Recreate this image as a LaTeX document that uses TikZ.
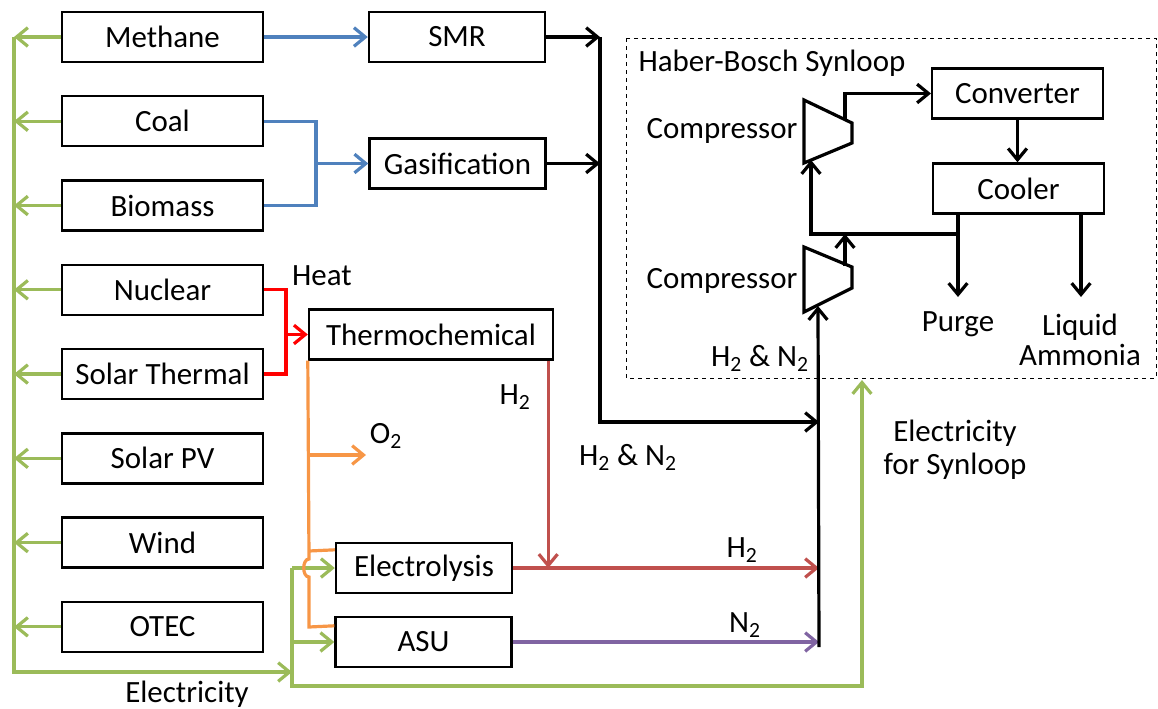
\documentclass[tikz,border=0pt]{standalone}
\usepackage{fontspec}
\setmainfont{Carlito}
\usetikzlibrary{arrows.meta,positioning}
\definecolor{elecgreen}{HTML}{9BBB59}
\definecolor{feedblue}{HTML}{4F81BD}
\definecolor{heatred}{HTML}{FF0000}
\definecolor{oxorange}{HTML}{F79646}
\definecolor{hydred}{HTML}{C0504D}
\definecolor{nitpurple}{HTML}{8064A2}

\begin{document}
\begin{tikzpicture}[
            x=0.75pt, y=-0.75pt,
            node distance=23.9pt,
            font=\fontsize{23.2}{27}\selectfont,
            box/.style={rectangle, draw, align=center, minimum width=150.75pt, minimum height=37.5pt, inner sep=0pt, fill=white, line width=1.8pt},
            unit/.style={box, minimum width=132pt},
            loopbox/.style={box, minimum width=128pt, minimum height=37.5pt},
            lbl/.style={inner sep=0pt, align=center},
            flow/.style={line width=2.4pt},
            arrow/.style={flow, -{Straight Barb[length=8.5pt, width=14pt]}},
            comp/.style={draw, line width=2.4pt, line join=miter}
        ]
            \useasboundingbox (0,0) rectangle (1158,708);

            % --- SOURCES ---
            \node[box] (methane) at (162.5,37) {Methane};
            \node[box, below=of methane] (coal) {Coal};
            \node[box, below=of coal] (biomass) {Biomass};
            \node[box, below=of biomass] (nuclear) {Nuclear};
            \node[box, below=of nuclear] (solarth) {Solar Thermal};
            \node[box, below=of solarth] (solarpv) {Solar PV};
            \node[box, below=of solarpv] (wind) {Wind};
            \node[box, below=of wind] (otec) {OTEC};

            % --- PROCESSES ---
            \node[unit] (smr) at (457,37) {SMR};
            \node[unit] (gasif) at (457.5,163.5) {Gasification};
            \node[box, minimum width=183pt] (thermo) at (431,334.5) {Thermochemical};
            \node[unit] (electro) at (424,568) {Electrolysis};
            \node[unit] (asu) at (423.5,642) {ASU};

            % --- SYNLOOP ---
            \draw[dashed, line width=0.75pt] (626,38) rectangle (1156,378);
            \node[lbl] (hblabel) at (772,63) {Haber-Bosch Synloop};
            \node[loopbox] (conv) at (1017.5,93.5) {Converter};
            \node[loopbox] (cooler) at (1018.5,188.5) {Cooler};
            \draw[comp] (804,100) -- (852,123) -- (852,143) -- (804,163) -- cycle;
            \draw[comp] (804,247) -- (852,267) -- (852,288) -- (804,312) -- cycle;
            \node[lbl] (comp1lbl) at (722,131) {Compressor};
            \node[lbl] (comp2lbl) at (722,281) {Compressor};
            \coordinate (comp1in) at (811,160);
            \coordinate (comp1out) at (845,119);
            \coordinate (comp2in) at (818,306);
            \coordinate (comp2out) at (845,266);
            \coordinate (recyc) at (958,234);

            \draw[arrow] (comp1out) |- (conv.west);
            \draw[arrow] (conv.south) -- (conv.south |- cooler.north);
            \draw[arrow] (cooler.south -| recyc) -- (recyc) -| (comp1in);
            \draw[arrow] (comp2out) -- (comp2out |- recyc);
            \draw[arrow] (recyc) -- (958,297);
            \draw[arrow] (1081,213) -- (1081,297);
            \node[lbl] (purge) at (958,324) {Purge};
            \node[lbl] (ammonia) at (1080,340) {Liquid\\[-4pt]Ammonia};

            % --- ELECTRICITY ---
            \coordinate (elecbus) at (14,37);
            \coordinate (elecsplit) at (292,672);
            \coordinate (elecbot) at (292,686);
            \coordinate (synelec) at (862,380);
            \foreach \src in {methane,coal,biomass,nuclear,solarth,solarpv,wind,otec}
                \draw[arrow, elecgreen] (\src.west) -- (\src.west -| elecbus);
            \draw[arrow, elecgreen] (elecbus) |- (elecsplit);
            \draw[arrow, elecgreen] (elecsplit |- electro.west) -- (elecbot) -| (synelec);
            \draw[arrow, elecgreen] (elecsplit |- electro.west) -- (electro.west);
            \draw[arrow, elecgreen] (elecsplit |- asu.west) -- (asu.west);
            \node[lbl] (eleclbl) at (187,694) {Electricity};
            \node[lbl] (synlbl) at (955,450) {Electricity\\[-2pt]for Synloop};

            % --- FOSSIL FEEDS ---
            \coordinate (bioj) at (316,163.5);
            \draw[arrow, feedblue] (methane) -- (smr);
            \draw[flow, feedblue] (coal.east) -| (bioj) |- (biomass.east);
            \draw[arrow, feedblue] (bioj) -- (gasif.west);

            % --- HEAT ---
            \coordinate (heatj) at (286,334.5);
            \draw[flow, heatred] (nuclear.east) -| (heatj) |- (solarth.east);
            \draw[arrow, heatred] (heatj) -- (thermo.west);
            \node[lbl] (heatlbl) at (322,276) {Heat};

            % --- OXYGEN ---
            \draw[flow, oxorange] (thermo.south west) -- (309,559) to[out=180, in=180] (309,577) -- (309,627) -- ([yshift=-7.5pt]asu.north west);
            \draw[flow, oxorange] (309,551) -- ([yshift=-6pt]electro.north west);
            \draw[arrow, oxorange] (309,455) -- (366,455);
            \node[lbl] (o2lbl) at (386,436) {O\textsubscript{2}};

            % --- HYDROGEN AND NITROGEN ---
            \coordinate (feed) at (819,647);
            \coordinate (hnbus) at (600,37);
            \draw[arrow, hydred] ([xshift=-4.5pt]thermo.south east) -- ([xshift=-4.5pt]thermo.south east |- electro.east);
            \draw[arrow, hydred] (electro.east) -- (electro.east -| feed);
            \draw[arrow, nitpurple] (asu.east) -- (asu.east -| feed);
            \draw[arrow] (smr.east) -- (hnbus);
            \draw[arrow] (gasif.east) -- (gasif.east -| hnbus);
            \draw[arrow] (hnbus) |- (feed |- 0,422);
            \draw[arrow] (feed) -- (comp2in);
            \node[lbl] (h2a) at (515,397) {H\textsubscript{2}};
            \node[lbl] (hn1) at (628,457) {H\textsubscript{2} \& N\textsubscript{2}};
            \node[lbl] (h2b) at (742,550) {H\textsubscript{2}};
            \node[lbl] (n2) at (745,625) {N\textsubscript{2}};
            \node[lbl] (hn2) at (760,358) {H\textsubscript{2} \& N\textsubscript{2}};

        \end{tikzpicture}
\end{document}
